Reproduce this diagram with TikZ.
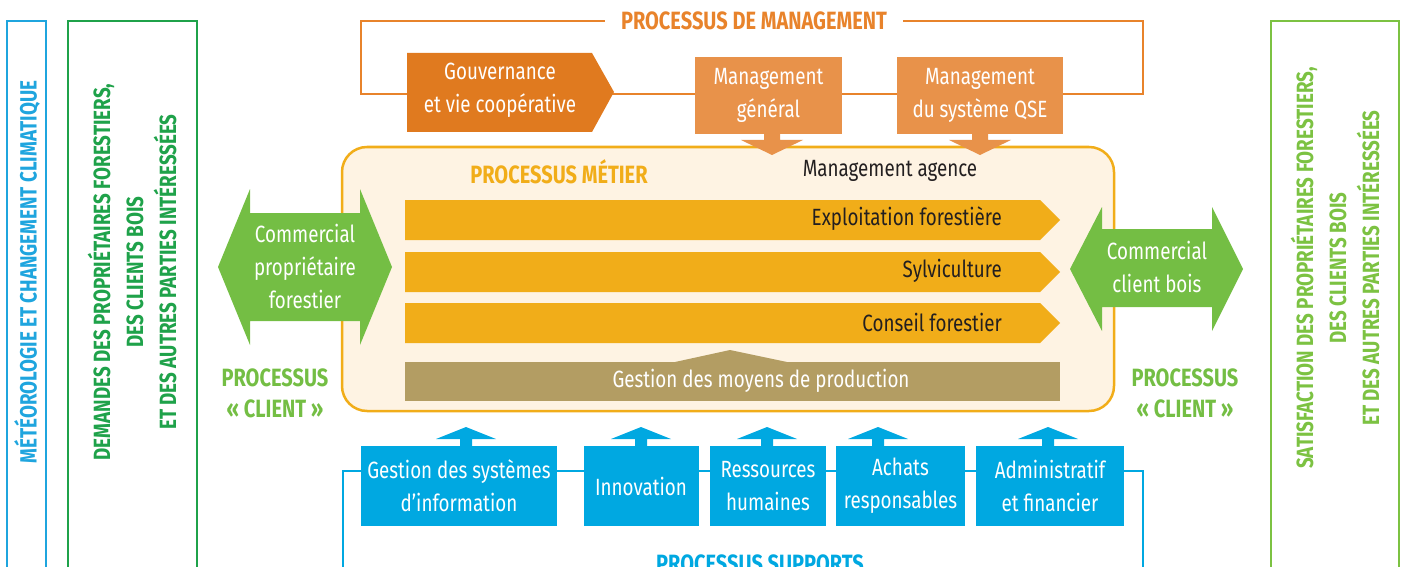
\documentclass[tikz,border=0pt]{standalone}
\usepackage{fontspec}
\setmainfont{Fira Sans}[FakeStretch=0.8]
\definecolor{govorange}{HTML}{E07A1F}
\definecolor{mgorange}{HTML}{E8924A}
\definecolor{mgframe}{HTML}{E8832B}
\definecolor{metieryellow}{HTML}{F1AD19}
\definecolor{metiercream}{HTML}{FEF3E3}
\definecolor{moyenskhaki}{HTML}{B39D63}
\definecolor{clientgreen}{HTML}{74BE44}
\definecolor{demandgreen}{HTML}{1FA24A}
\definecolor{satisgreen}{HTML}{7CC242}
\definecolor{supportblue}{HTML}{00A8E1}
\definecolor{meteoblue}{HTML}{1FA5DE}
\definecolor{agencetext}{HTML}{231F20}
\tikzset{
  boxtext/.style={text=white, align=center, inner sep=0pt, font=\fontsize{23.5}{33}\selectfont},
  bartext/.style={text=agencetext, inner sep=0pt, font=\fontsize{23.5}{31}\selectfont},
  mgbox/.style={boxtext, fill=mgorange, minimum height=77},
  supbox/.style={boxtext, fill=supportblue, minimum height=80},
  bigtitle/.style={font=\bfseries\fontsize{25}{31}\selectfont, align=center, inner sep=0pt},
  sidetitle/.style={rotate=90, align=center, font=\bfseries\fontsize{23.5}{33}\selectfont},
  sideframe/.style={line width=1.3}
}
\begin{document}
\begin{tikzpicture}[x=1pt,y=-1pt]
\useasboundingbox (0,0) rectangle (1405,567);
\clip (0,0) rectangle (1405,567);

% cadres lateraux
\draw[sideframe, meteoblue] (7,21) rectangle (46,600);
\node[sidetitle, text=meteoblue] (meteo) at (27,272) {MÉTÉOROLOGIE ET CHANGEMENT CLIMATIQUE};
\draw[sideframe, demandgreen] (68,21) rectangle (197,600);
\node[sidetitle, text=demandgreen] (demandes) at (132,272) {DEMANDES DES PROPRIÉTAIRES FORESTIERS,\\DES CLIENTS BOIS\\ET DES AUTRES PARTIES INTÉRESSÉES};
\draw[sideframe, satisgreen] (1271,21) rectangle (1399,600);
\node[sidetitle, text=satisgreen] (satisfaction) at (1335,268) {SATISFACTION DES PROPRIÉTAIRES FORESTIERS,\\DES CLIENTS BOIS\\ET DES AUTRES PARTIES INTÉRESSÉES};

% processus de management
\node[bigtitle, text=mgframe, inner xsep=16pt] (mgtitle) at (754,21) {PROCESSUS DE MANAGEMENT};
\draw[mgframe, line width=1.2] (mgtitle.west) -- (361,21) -- (361,94) -- (1143,94) -- (1143,21) -- (mgtitle.east);
\fill[govorange] (407,53) -- (592,53) -- (614,92) -- (592,132) -- (407,132) -- cycle;
\node[boxtext] (gouv) at (500,90) {Gouvernance\\et vie coopérative};
\node[mgbox, minimum width=147] (mggen) at (768.5,95.5) {Management\\général};
\node[mgbox, minimum width=166] (mgqse) at (980,95.5) {Management\\du système QSE};

% processus metier
\node[draw=metieryellow, fill=metiercream, line width=2.5, rounded corners=25, minimum width=772, minimum height=264] (metier) at (728,279) {};
\foreach \x in {772,980}
{
  \fill[mgorange] (\x-8,133) -- (\x+8,133) -- (\x+8,140) -- (\x+31,140) -- (\x,155) -- (\x-31,140) -- (\x-8,140) -- cycle;
}
\node[bigtitle, text=metieryellow] (metiertitle) at (559,172) {PROCESSUS MÉTIER};
\node[bartext] (agence) at (890,171) {Management agence};
\foreach \y/\name/\txt in {200/exploit/Exploitation forestière, 252/sylvi/Sylviculture, 303/conseil/Conseil forestier}
{
  \fill[metieryellow] (405,\y) -- (1040,\y) -- (1060,\y+20) -- (1040,\y+40) -- (405,\y+40) -- cycle;
  \node[bartext, anchor=east] (\name) at (1002,\y+19) {\txt};
}
\fill[moyenskhaki] (405,362) rectangle (1060,401);
\fill[moyenskhaki] (675,362) -- (730,350) -- (787,362) -- cycle;
\node[boxtext] (moyens) at (761,381) {Gestion des moyens de production};

% processus client
\fill[clientgreen] (218,267) -- (250,189) -- (250,213) -- (360,213) -- (360,189) -- (392,267) -- (360,345) -- (360,321) -- (250,321) -- (250,345) -- cycle;
\node[boxtext] (comprop) at (305,266) {Commercial\\propriétaire\\forestier};
\fill[clientgreen] (1070,269) -- (1102,207) -- (1102,229) -- (1212,229) -- (1212,207) -- (1243,269) -- (1212,331) -- (1212,307) -- (1102,307) -- (1102,331) -- cycle;
\node[boxtext] (comclient) at (1157,267) {Commercial\\client bois};
\node[bigtitle, text=clientgreen] (clientL) at (275,393) {PROCESSUS\\« CLIENT »};
\node[bigtitle, text=clientgreen] (clientR) at (1185,393) {PROCESSUS\\« CLIENT »};

% processus supports
\draw[supportblue, line width=1.3] (343,600) -- (343,471) -- (1143,471) -- (1143,600);
\foreach \cx/\w/\name/\txt in {459/196/gsi/{Gestion des systèmes\\d’information}, 641/115/innov/Innovation, 768/116/rh/{Ressources\\humaines}, 900.5/129/achats/{Achats\\responsables}, 1050/148/admin/{Administratif\\et financier}}
{
  \node[supbox, minimum width=\w] (\name) at (\cx,486) {\txt};
}
\foreach \x in {466,641,767,878,1048}
{
  \fill[supportblue] (\x-6,447) -- (\x-6,439) -- (\x-30,439) -- (\x,427) -- (\x+30,439) -- (\x+6,439) -- (\x+6,447) -- cycle;
}
\node[bigtitle, text=supportblue, anchor=base] (suptitle) at (760,572) {PROCESSUS SUPPORTS};
\end{tikzpicture}
\end{document}
